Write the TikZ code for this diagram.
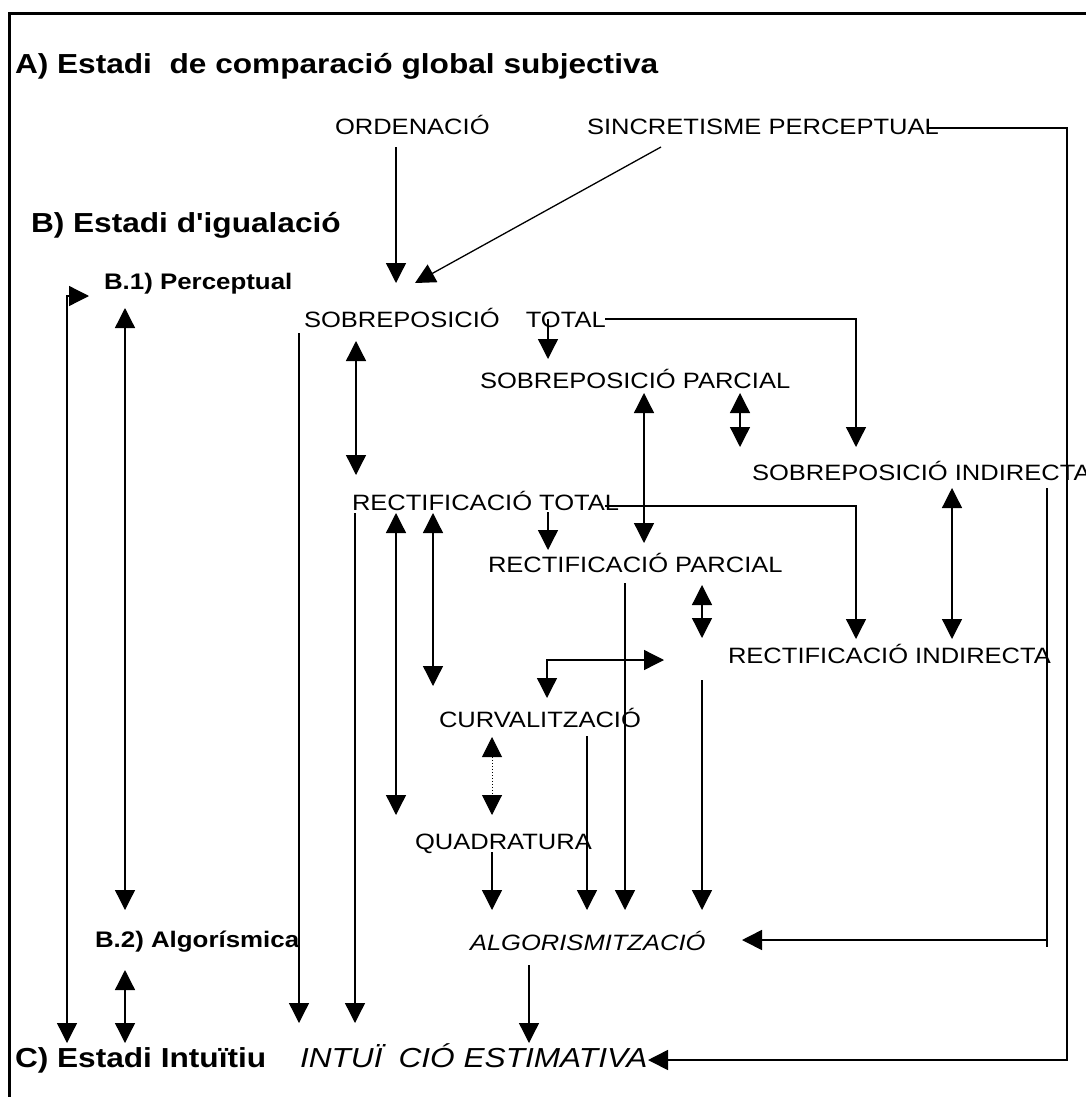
\documentclass[tikz,border=0pt]{standalone}
\usepackage{fontspec}
\newfontfamily\dfont{Liberation Sans}[FakeStretch=1.15]
\usetikzlibrary{arrows.meta}
\begin{document}
\begin{tikzpicture}[x=1pt,y=-1pt,
  tri/.tip={Triangle[length=20pt,width=20pt]},
  lbl/.style={anchor=base west,inner sep=0pt,outer sep=0pt,font=\dfont\fontsize{22.2}{26}\selectfont},
  ilbl/.style={lbl,font=\dfont\fontsize{22.2}{26}\selectfont\itshape},
  ttl/.style={lbl,font=\dfont\fontsize{27.5}{32}\selectfont\bfseries},
  ittl/.style={lbl,font=\dfont\fontsize{27.5}{32}\selectfont\itshape},
  sub/.style={lbl,font=\dfont\fontsize{22.5}{26}\selectfont\bfseries},
  cn/.style={line width=1.3pt,draw=black},
  cnb/.style={line width=1.6pt,draw=black},
  dots/.style={line width=1pt,dash pattern=on 1.5pt off 1.5pt}]
\useasboundingbox (0,0) rectangle (1086,1097);
% frame
\draw[line width=3pt] (9.5,1097) -- (9.5,13.5) -- (1086,13.5);

% texts
\node[ttl] (tA) at (15,74) {A) Estadi\ \ de comparació global subjectiva};
\node[lbl] (tOrd) at (335,135) {ORDENACIÓ};
\node[lbl] (tSinc) at (587,135) {SINCRETISME PERCEPTUAL};
\node[ttl] (tB) at (31,232) {B) Estadi d'igualació};
\node[sub] (tB1) at (104,289) {B.1) Perceptual};
\node[lbl] (tSobTot) at (304,327) {SOBREPOSICIÓ\hspace{26pt}TOTAL};
\node[lbl] (tSobPar) at (480,388) {SOBREPOSICIÓ PARCIAL};
\node[lbl] (tSobInd) at (752,480) {SOBREPOSICIÓ INDIRECTA};
\node[lbl] (tRecTot) at (352,510) {RECTIFICACIÓ TOTAL};
\node[lbl] (tRecPar) at (488,572) {RECTIFICACIÓ PARCIAL};
\node[lbl] (tRecInd) at (728,663) {RECTIFICACIÓ INDIRECTA};
\node[lbl] (tCurv) at (439,727) {CURVALITZACIÓ};
\node[lbl] (tQuad) at (415,849) {QUADRATURA};
\node[sub] (tB2) at (95,947) {B.2) Algorísmica};
\node[ilbl] (tAlg) at (470,950) {ALGORISMITZACIÓ};
\node[ttl] (tC) at (15,1067) {C) Estadi Intuïtiu};
\node[ittl] (tInt) at (300,1067) {INTUÏ\hspace{16pt}CIÓ ESTIMATIVA};

% connector end points
\coordinate (ord1) at (396,147); \coordinate (ord2) at (396,283);
\coordinate (sin1) at (661,147); \coordinate (sin2) at (415,283);
\coordinate (sl0) at (928,128); \coordinate (sl1) at (1067,128);
\coordinate (sl2) at (1067,1060); \coordinate (sl3) at (648,1060);
\coordinate (st0) at (605,319); \coordinate (st1) at (856,319); \coordinate (st2) at (856,447);
\coordinate (sp1) at (548,319); \coordinate (sp2) at (548,359);
\coordinate (sv1) at (299,333); \coordinate (sv2) at (299,1023);
\coordinate (sr1) at (356,341); \coordinate (sr2) at (356,475);
\coordinate (pp1) at (644,393); \coordinate (pp2) at (644,543);
\coordinate (ps1) at (740,393); \coordinate (ps2) at (740,447);
\coordinate (ii1) at (952,488); \coordinate (ii2) at (952,639);
\coordinate (ia1) at (1047,488); \coordinate (ia2) at (1047,947);
\coordinate (ia3) at (1047,940); \coordinate (ia4) at (742,940);
\coordinate (rt0) at (605,506); \coordinate (rt1) at (856,506); \coordinate (rt2) at (856,639);
\coordinate (rp1) at (548,512); \coordinate (rp2) at (548,550);
\coordinate (rv1) at (355,513); \coordinate (rv2) at (355,1023);
\coordinate (rq1) at (396,513); \coordinate (rq2) at (396,815);
\coordinate (rc1) at (433,513); \coordinate (rc2) at (433,686);
\coordinate (pa1) at (625,583); \coordinate (pa2) at (625,910);
\coordinate (pi1) at (702,585); \coordinate (pi2) at (702,638);
\coordinate (j0) at (547,660); \coordinate (j1) at (664,660); \coordinate (j2) at (547,698);
\coordinate (xa1) at (702,680); \coordinate (xa2) at (702,910);
\coordinate (cq1) at (492,737); \coordinate (cq2) at (492,815);
\coordinate (ca1) at (587,736); \coordinate (ca2) at (587,910);
\coordinate (qa1) at (492,852); \coordinate (qa2) at (492,910);
\coordinate (ai1) at (529,965); \coordinate (ai2) at (529,1043);
\coordinate (bb1) at (125,308); \coordinate (bb2) at (125,910);
\coordinate (bc1) at (125,970); \coordinate (bc2) at (125,1043);
\coordinate (lf1) at (89,296); \coordinate (lf0) at (67,296); \coordinate (lf2) at (67,1043);

% connectors
\draw[cn,-tri] (ord1) -- (ord2);
\draw[cn,-tri] (sin1) -- (sin2);
\draw[cnb,-tri] (sl0) -- (sl1) -- (sl2) -- (sl3);
\draw[cn,-tri] (st0) -- (st1) -- (st2);
\draw[cn,-tri] (sp1) -- (sp2);
\draw[cn,-tri] (sv1) -- (sv2);
\draw[cn,tri-tri] (sr1) -- (sr2);
\draw[cn,tri-tri] (pp1) -- (pp2);
\draw[cn,tri-tri] (ps1) -- (ps2);
\draw[cn,tri-tri] (ii1) -- (ii2);
\draw[cnb] (ia1) -- (ia2);
\draw[cnb,-tri] (ia3) -- (ia4);
\draw[cn,-tri] (rt0) -- (rt1) -- (rt2);
\draw[cn,-tri] (rp1) -- (rp2);
\draw[cn,-tri] (rv1) -- (rv2);
\draw[cn,tri-tri] (rq1) -- (rq2);
\draw[cn,tri-tri] (rc1) -- (rc2);
\draw[cn,-tri] (pa1) -- (pa2);
\draw[cn,tri-tri] (pi1) -- (pi2);
\draw[cn,tri-tri] (j1) -- (j0) -- (j2);
\draw[cn,-tri] (xa1) -- (xa2);
\draw[dots,tri-tri] (cq1) -- (cq2);
\draw[cn,-tri] (ca1) -- (ca2);
\draw[cn,-tri] (qa1) -- (qa2);
\draw[cn,-tri] (ai1) -- (ai2);
\draw[cn,tri-tri] (bb1) -- (bb2);
\draw[cn,tri-tri] (bc1) -- (bc2);
\draw[cn,tri-tri] (lf1) -- (lf0) -- (lf2);
\end{tikzpicture}
\end{document}
